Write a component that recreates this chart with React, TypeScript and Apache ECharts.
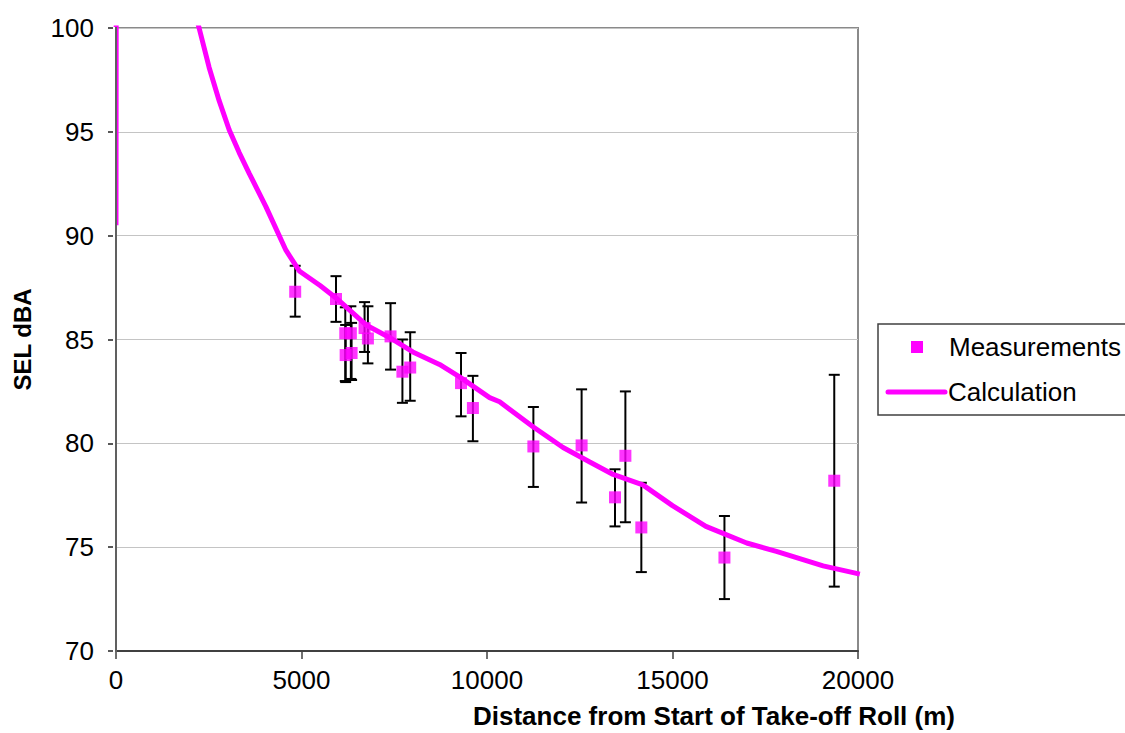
import React, { useEffect, useRef } from "react";
import * as echarts from "echarts";

// Calculation curve (distance m, SEL dBA)
const calcDist = [0, 30, 2000, 2240, 2510, 2780, 3050, 3320, 3590, 4040, 4580, 4940, 5500, 5930, 6740, 7370, 8000, 8720, 9260, 10070, 10340, 11240, 12050, 12770, 13400, 14200, 15000, 15900, 17000, 17800, 19060, 20050];
const calcSel = [90.5, 150, 101.6, 100.0, 98.1, 96.5, 95.1, 94.0, 93.0, 91.4, 89.3, 88.3, 87.6, 87.0, 85.7, 85.1, 84.4, 83.8, 83.2, 82.2, 82.0, 80.8, 79.8, 79.1, 78.5, 78.0, 77.0, 76.0, 75.2, 74.8, 74.1, 73.7];

// Measurements with error bars
const measDist = [4830, 5930, 6180, 6330, 6190, 6350, 6700, 6790, 7400, 7720, 7930, 9300, 9620, 11250, 12550, 13450, 13730, 14160, 16400, 19360];
const measSel = [87.3, 86.95, 85.3, 85.3, 84.25, 84.35, 85.55, 85.05, 85.15, 83.45, 83.65, 82.9, 81.7, 79.85, 79.9, 77.4, 79.4, 75.95, 74.5, 78.2];
const measHigh = [88.55, 88.05, 86.55, 86.6, 85.7, 85.8, 86.8, 86.6, 86.75, 85.0, 85.35, 84.35, 83.25, 81.75, 82.6, 78.75, 82.5, 78.1, 76.5, 83.3];
const measLow = [86.1, 85.85, 83.0, 83.1, 82.95, 83.05, 84.4, 83.85, 83.55, 81.95, 82.05, 81.3, 80.1, 77.9, 77.15, 76.0, 76.2, 73.8, 72.5, 73.1];

const xTickInterval = 5000;
const yTickInterval = 5;

const FONT = '"Liberation Sans", Arial, sans-serif';
const MAGENTA = "#FF00FF";

export default function App() {
  const ref = useRef<HTMLDivElement>(null);
  useEffect(() => {
    if (!ref.current) return;
    const chart = echarts.init(ref.current, null, { renderer: "svg" });
    const calcData = calcDist.map((d, i) => [d, calcSel[i]]);
    const measData = measDist.map((d, i) => [d, measSel[i]]);
    const errData = measDist.map((d, i) => [d, measHigh[i], measLow[i]]);
    chart.setOption({
      animation: false,
      backgroundColor: "#fff",
      grid: {
        left: 116,
        right: 267,
        top: 28,
        bottom: 82,
        show: true,
        borderColor: "#8a8a8a",
        borderWidth: 2,
        backgroundColor: "transparent",
      },
      xAxis: {
        type: "value",
        min: 0,
        max: 20000,
        interval: xTickInterval,
        axisLine: { show: true, onZero: false, lineStyle: { color: "#404040", width: 2 } },
        axisTick: { show: true, inside: false, length: 8, lineStyle: { color: "#404040", width: 1.5 } },
        axisLabel: {
          color: "#000",
          fontSize: 26,
          fontFamily: FONT,
          margin: 16,
          formatter: (v: number) => String(v),
        },
        splitLine: { show: false },
      },
      yAxis: {
        type: "value",
        min: 70,
        max: 100,
        interval: yTickInterval,
        name: "SEL dBA",
        nameLocation: "middle",
        nameGap: 82,
        nameTextStyle: { color: "#000", fontSize: 24, fontWeight: "bold", fontFamily: FONT },
        axisLine: { show: true, onZero: false, lineStyle: { color: "#606060", width: 2 } },
        axisTick: { show: true, inside: false, length: 8, lineStyle: { color: "#202020", width: 1.5 } },
        axisLabel: { color: "#000", fontSize: 26, fontFamily: FONT, margin: 22 },
        splitLine: { show: true, lineStyle: { color: "#c4c4c4", width: 1.2 } },
      },
      series: [
        {
          name: "Error",
          type: "custom",
          z: 1,
          data: errData,
          encode: { x: 0, y: [1, 2] },
          renderItem: (params: any, api: any) => {
            const x = api.value(0);
            const top = api.coord([x, api.value(1)]);
            const bot = api.coord([x, api.value(2)]);
            const hw = 5.5;
            const st = { stroke: "#000", lineWidth: 2 };
            return {
              type: "group",
              children: [
                { type: "line", shape: { x1: top[0], y1: top[1], x2: bot[0], y2: bot[1] }, style: st },
                { type: "line", shape: { x1: top[0] - hw, y1: top[1], x2: top[0] + hw, y2: top[1] }, style: st },
                { type: "line", shape: { x1: bot[0] - hw, y1: bot[1], x2: bot[0] + hw, y2: bot[1] }, style: st },
              ],
            };
          },
        },
        {
          name: "Calculation",
          type: "line",
          z: 2,
          data: calcData,
          showSymbol: false,
          symbol: "none",
          clip: true,
          lineStyle: { color: MAGENTA, width: 5 },
        },
        {
          name: "Measurements",
          type: "scatter",
          z: 3,
          data: measData,
          symbol: "rect",
          symbolSize: 12,
          itemStyle: { color: MAGENTA },
        },
      ],
      graphic: [
        {
          // left axis line redrawn above the series (covers the curve's start at x = 0)
          type: "rect",
          z: 50,
          shape: { x: 113, y: 27, width: 3.5, height: 625 },
          style: { fill: "#fff" },
        },
        {
          type: "line",
          z: 51,
          shape: { x1: 116, y1: 27, x2: 116, y2: 652 },
          style: { stroke: "#606060", lineWidth: 2 },
        },
        {
          type: "text",
          x: 714,
          y: 716,
          style: {
            text: "Distance from Start of Take-off Roll (m)",
            fontSize: 26,
            fontWeight: "bold",
            fontFamily: FONT,
            fill: "#000",
            align: "center",
            verticalAlign: "middle",
          },
        },
        {
          type: "group",
          x: 878,
          y: 324,
          children: [
            {
              type: "rect",
              shape: { x: 0, y: 0, width: 270, height: 91 },
              style: { fill: "#fff", stroke: "#404040", lineWidth: 1.5 },
            },
            {
              type: "rect",
              shape: { x: 33, y: 17, width: 12, height: 12 },
              style: { fill: MAGENTA },
            },
            {
              type: "text",
              x: 71,
              y: 23,
              style: { text: "Measurements", fontSize: 26, fontFamily: FONT, fill: "#000", verticalAlign: "middle" },
            },
            {
              type: "line",
              shape: { x1: 10, y1: 68, x2: 67, y2: 68 },
              style: { stroke: MAGENTA, lineWidth: 5, lineCap: "round" },
            },
            {
              type: "text",
              x: 70,
              y: 68,
              style: { text: "Calculation", fontSize: 26, fontFamily: FONT, fill: "#000", verticalAlign: "middle" },
            },
          ],
        },
      ],
    });
    return () => chart.dispose();
  }, []);
  return (
    <div
      ref={ref}
      style={{ position: "fixed", left: 0, top: 0, width: 1125, height: 733 }}
    />
  );
}
